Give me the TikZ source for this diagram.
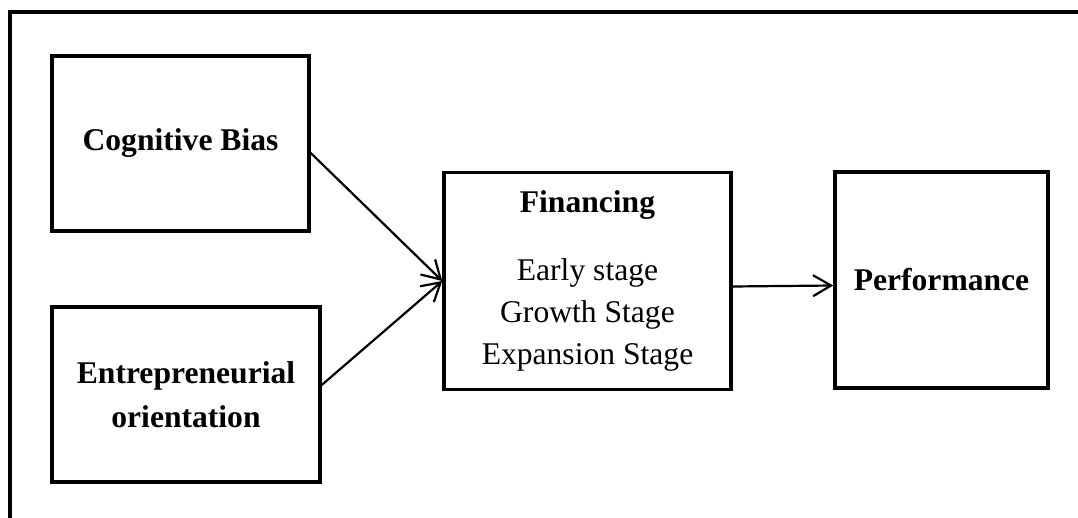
\documentclass[tikz,border=0pt]{standalone}
\usepackage{fontspec}
\setmainfont{Liberation Serif}
\usetikzlibrary{arrows.meta}
\begin{document}
\begin{tikzpicture}[x=1pt,y=-1pt,
  box/.style={draw=black, line width=3.5pt, rectangle, inner sep=0pt,
    align=center, font=\fontsize{31.6}{44}\selectfont},
  link/.style={line width=2.2pt, -{Straight Barb[length=18pt,width=21pt,line width=2.2pt]}},
  frameline/.style={line width=4pt, line join=miter}]
  \useasboundingbox (0,0) rectangle (1078,518);

  % outer frame (top and left edges)
  \coordinate (fbl) at (9.5,530);
  \coordinate (ftl) at (9.5,12.5);
  \coordinate (ftr) at (1090,12.5);
  \draw[frameline] (fbl) -- (ftl) -- (ftr);

  % boxes
  \node[box, minimum width=257pt, minimum height=175pt] (cog) at (180.5,143.5)
    {\textbf{Cognitive Bias}};
  \node[box, minimum width=268pt, minimum height=175pt] (ent) at (186,394.5)
    {\textbf{Entrepreneurial}\\\textbf{orientation}};
  \node[box, minimum width=287pt, minimum height=217pt,
        font=\fontsize{31.6}{42}\selectfont] (fin) at (587.5,281)
    {\textbf{Financing}\\[26pt]Early stage\\Growth Stage\\Expansion Stage};
  \node[box, minimum width=213pt, minimum height=216pt] (perf) at (941.5,280)
    {\textbf{Performance}};

  % connectors
  \draw[link] ([yshift=-9.5pt]cog.east) -- (fin.west);
  \draw[link] ([yshift=9.5pt]ent.east) -- (fin.west);
  \draw[link] ([yshift=-5.5pt]fin.east) -- ([yshift=-5.5pt]perf.west);
\end{tikzpicture}
\end{document}
